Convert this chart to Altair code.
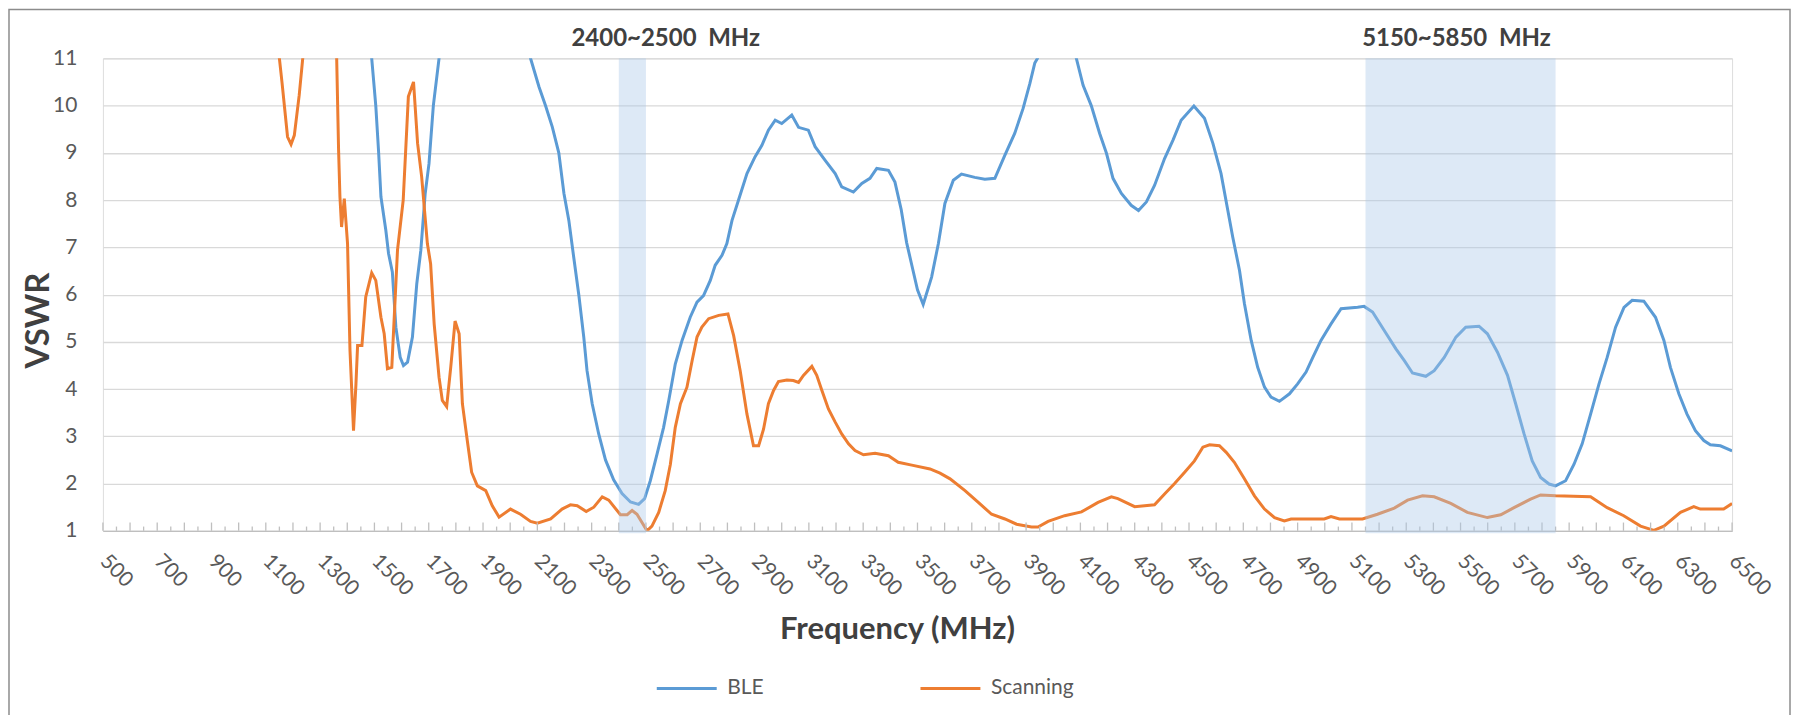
import altair as alt
import pandas as pd

# ---------------- data ----------------
ble_freq = [500, 1000, 1470, 1490, 1505, 1515, 1524, 1542, 1552, 1566, 1579, 1595, 1607, 1622, 1640,
            1656, 1671, 1687, 1701, 1717, 1738, 1760, 1900, 2050, 2075, 2106, 2130, 2155, 2179, 2198,
            2216, 2234, 2253, 2271, 2283, 2302, 2326, 2351, 2381, 2412, 2443, 2473, 2495, 2516, 2541,
            2565, 2584, 2608, 2633, 2663, 2688, 2712, 2737, 2755, 2780, 2798, 2817, 2841, 2872, 2902,
            2927, 2951, 2976, 3000, 3037, 3062, 3098, 3123, 3160, 3197, 3221, 3264, 3295, 3325, 3350,
            3393, 3417, 3440, 3460, 3480, 3500, 3521, 3552, 3577, 3601, 3632, 3662, 3711, 3748, 3785,
            3822, 3858, 3889, 3914, 3932, 3942, 3960, 4010, 4065, 4085, 4110, 4140, 4171, 4196, 4220,
            4251, 4287, 4314, 4343, 4373, 4410, 4441, 4471, 4518, 4557, 4588, 4618, 4643, 4661, 4686,
            4704, 4729, 4753, 4778, 4802, 4833, 4870, 4900, 4931, 4956, 4986, 5023, 5060, 5121, 5145,
            5176, 5219, 5262, 5293, 5323, 5372, 5403, 5440, 5483, 5519, 5568, 5599, 5636, 5673, 5703,
            5734, 5764, 5795, 5826, 5850, 5887, 5918, 5948, 5979, 6010, 6040, 6071, 6102, 6132, 6175,
            6218, 6249, 6273, 6304, 6334, 6365, 6396, 6420, 6457, 6500]
ble_vswr = [30, 30, 12.5, 11.0, 10.0, 9.06, 8.07, 7.36, 6.87, 6.48, 5.31, 4.67, 4.5, 4.57, 5.1,
            6.23, 6.94, 8.14, 8.77, 10.0, 11.0, 12.6, 16, 12.4, 11.0, 10.4, 10.0, 9.55, 9.0, 8.14,
            7.57, 6.79, 5.98, 5.1, 4.39, 3.69, 3.05, 2.5, 2.08, 1.79, 1.61, 1.56, 1.68, 2.06, 2.63,
            3.19, 3.76, 4.53, 5.03, 5.52, 5.84, 5.98, 6.3, 6.62, 6.83, 7.08, 7.57, 8.0, 8.56, 8.92,
            9.16, 9.48, 9.69, 9.62, 9.8, 9.54, 9.48, 9.13, 8.84, 8.56, 8.28, 8.17, 8.35, 8.46, 8.67,
            8.63, 8.38, 7.8, 7.1, 6.6, 6.1, 5.79, 6.37, 7.08, 7.93, 8.42, 8.55, 8.48, 8.44, 8.46,
            8.95, 9.41, 9.94, 10.47, 10.9, 11.0, 12.3, 13.5, 12.3, 11.0, 10.43, 10.0, 9.41, 8.99, 8.46,
            8.14, 7.89, 7.78, 7.96, 8.31, 8.88, 9.27, 9.69, 9.99, 9.73, 9.2, 8.56, 7.78, 7.22, 6.51,
            5.81, 5.03, 4.46, 4.04, 3.83, 3.74, 3.9, 4.11, 4.36, 4.67, 5.03, 5.38, 5.7, 5.73, 5.75,
            5.63, 5.24, 4.85, 4.6, 4.34, 4.27, 4.39, 4.67, 5.1, 5.31, 5.33, 5.17, 4.78, 4.29, 3.69,
            3.05, 2.48, 2.13, 1.99, 1.95, 2.06, 2.41, 2.84, 3.47, 4.11, 4.67, 5.31, 5.73, 5.88, 5.86,
            5.52, 5.03, 4.46, 3.9, 3.47, 3.12, 2.91, 2.82, 2.8, 2.69]

scan_freq = [500, 1100, 1140, 1150, 1160, 1180, 1193, 1205, 1223, 1236, 1250, 1300, 1350, 1361, 1368,
             1373, 1379, 1389, 1401, 1410, 1423, 1432, 1438, 1454, 1468, 1490, 1505, 1524, 1536, 1548,
             1564, 1585, 1606, 1625, 1644, 1659, 1674, 1695, 1707, 1720, 1738, 1750, 1766, 1781, 1797,
             1812, 1824, 1842, 1858, 1879, 1910, 1934, 1959, 2001, 2038, 2075, 2100, 2149, 2191, 2222,
             2247, 2280, 2308, 2339, 2363, 2406, 2431, 2449, 2467, 2486, 2504, 2522, 2547, 2571, 2590,
             2608, 2627, 2651, 2670, 2688, 2706, 2731, 2768, 2802, 2823, 2847, 2872, 2896, 2915, 2933,
             2951, 2970, 2988, 3019, 3043, 3062, 3080, 3111, 3129, 3148, 3172, 3197, 3221, 3246, 3270,
             3301, 3344, 3393, 3429, 3479, 3546, 3583, 3620, 3675, 3724, 3773, 3822, 3865, 3920, 3944,
             3981, 4042, 4104, 4165, 4214, 4238, 4300, 4373, 4410, 4447, 4484, 4520, 4551, 4576, 4612,
             4637, 4667, 4704, 4741, 4778, 4815, 4851, 4876, 4998, 5023, 5054, 5139, 5194, 5256, 5305,
             5360, 5403, 5464, 5525, 5599, 5648, 5697, 5758, 5795, 5850, 5979, 6040, 6101, 6163, 6212,
             6249, 6310, 6359, 6383, 6469, 6500]
scan_vswr = [30, 18, 11.6, 11.0, 10.47, 9.34, 9.18, 9.37, 10.22, 11.0, 12.8, 16, 12.5, 11.0, 9.06,
             8.07, 7.43, 8.03, 7.08, 4.82, 3.12, 4.11, 4.92, 4.92, 5.95, 6.46, 6.3, 5.52, 5.17, 4.43,
             4.46, 6.94, 8.0, 10.19, 10.5, 9.2, 8.49, 7.08, 6.65, 5.38, 4.25, 3.76, 3.63, 4.46, 5.44,
             5.17, 3.69, 2.91, 2.24, 1.95, 1.85, 1.53, 1.29, 1.46, 1.35, 1.2, 1.16, 1.25, 1.46, 1.55,
             1.53, 1.41, 1.5, 1.72, 1.65, 1.34, 1.34, 1.43, 1.35, 1.17, 1.0, 1.1, 1.39, 1.85, 2.41,
             3.19, 3.69, 4.04, 4.6, 5.1, 5.31, 5.49, 5.56, 5.59, 5.13, 4.39, 3.47, 2.8, 2.8, 3.15,
             3.69, 3.97, 4.16, 4.19, 4.18, 4.14, 4.29, 4.48, 4.29, 3.97, 3.58, 3.3, 3.05, 2.84, 2.7,
             2.61, 2.64, 2.59, 2.45, 2.39, 2.31, 2.22, 2.1, 1.85, 1.6, 1.35, 1.25, 1.14, 1.08, 1.08,
             1.2, 1.32, 1.4, 1.6, 1.72, 1.68, 1.51, 1.55, 1.78, 2.0, 2.24, 2.48, 2.77, 2.82, 2.8,
             2.66, 2.45, 2.1, 1.74, 1.46, 1.28, 1.21, 1.25, 1.25, 1.3, 1.25, 1.25, 1.35, 1.48, 1.65,
             1.74, 1.72, 1.58, 1.39, 1.28, 1.34, 1.49, 1.67, 1.76, 1.74, 1.72, 1.49, 1.32, 1.1, 1.01,
             1.1, 1.39, 1.51, 1.46, 1.46, 1.58]

series_names = ["BLE", "Scanning"]
series_colors = ["#5B9BD5", "#ED7D31"]

band_start = [2400, 5150]
band_end = [2500, 5850]
band_text = ["2400~2500\u00a0 MHz", "5150~5850\u00a0 MHz"]
band_text_freq = [2573, 5485]

x_tick_labels = list(range(500, 6501, 200))
y_tick_labels = list(range(1, 12))
major_ticks = list(range(500, 6501, 100))
minor_ticks = list(range(550, 6500, 100))

# ---------------- tables ----------------
lines_df = pd.concat([
    pd.DataFrame({"freq": ble_freq, "vswr": ble_vswr, "series": series_names[0]}),
    pd.DataFrame({"freq": scan_freq, "vswr": scan_vswr, "series": series_names[1]}),
], ignore_index=True)
bands_df = pd.DataFrame({"start": band_start, "end": band_end})
labels_df = pd.DataFrame({"freq": band_text_freq, "text": band_text})
major_df = pd.DataFrame({"freq": major_ticks})
minor_df = pd.DataFrame({"freq": minor_ticks})

FONT = "Lato"
xscale = alt.Scale(domain=[500, 6500], nice=False, zero=False)
yscale = alt.Scale(domain=[1, 11], nice=False, zero=False)

x_enc = alt.X("freq:Q", scale=xscale, axis=alt.Axis(
    values=x_tick_labels, format="d", grid=False, ticks=False, labelAngle=45, labelAlign="left",
    labelBaseline="middle", labelPadding=27, labelFontSize=21, labelFont=FONT,
    labelColor="#595959", labelFlush=False, labelOverlap=False,
    domainColor="#BFBFBF", domainWidth=1.3,
    title="Frequency (MHz)", titleFont=FONT, titleFontSize=31, titleFontWeight="bold",
    titleColor="#404040", titleX=795, titleY=108, titleBaseline="alphabetic",
    titleAlign="center"))
y_enc = alt.Y("vswr:Q", scale=yscale, axis=alt.Axis(
    values=y_tick_labels, grid=True, gridColor="#D9D9D9", gridWidth=1.3, ticks=False,
    tickSize=0, domain=False, labelPadding=26, labelFontSize=21, labelFont=FONT,
    labelColor="#595959", labelFlush=False,
    title="VSWR", titleFont=FONT, titleFontSize=33, titleFontWeight="bold",
    titleColor="#404040", titleAngle=270, titleX=-64, titleY=262,
    titleAlign="center", titleBaseline="middle"))

lines = alt.Chart(lines_df).mark_line(strokeWidth=3, clip=True).encode(
    x=x_enc, y=y_enc,
    color=alt.Color("series:N", scale=alt.Scale(domain=series_names, range=series_colors),
                    legend=alt.Legend(title=None, orient="none", legendX=553, legendY=599,
                                      direction="horizontal", symbolType="stroke",
                                      symbolSize=3600, symbolStrokeWidth=3,
                                      labelFont=FONT, labelFontSize=21, labelColor="#595959",
                                      labelOffset=9, columnPadding=150, padding=0)),
    order=alt.Order("freq:Q"),
)

major = alt.Chart(major_df).mark_rule(color="#BFBFBF", strokeWidth=1.3).encode(
    x=alt.X("freq:Q", scale=xscale), y=alt.datum(1), y2=alt.datum(1.175))
minor = alt.Chart(minor_df).mark_rule(color="#BFBFBF", strokeWidth=1.3).encode(
    x=alt.X("freq:Q", scale=xscale), y=alt.datum(1), y2=alt.datum(1.09))

bands = alt.Chart(bands_df).mark_rect(color="#A9C8E8", opacity=0.4).encode(
    x=alt.X("start:Q", scale=xscale), x2="end:Q",
    y=alt.datum(11), y2=alt.datum(0.95))

band_labels = alt.Chart(labels_df).mark_text(
    font=FONT, fontSize=24, fontWeight="bold", color="#404040",
    baseline="middle", align="center", dy=-19).encode(
    x=alt.X("freq:Q", scale=xscale), y=alt.datum(11), text="text:N")

frame = alt.Chart(pd.DataFrame({"k": [0]})).mark_rect(
    filled=False, stroke="#8C8C8C", strokeWidth=1.5).encode(
    x=alt.value(-94), x2=alt.value(1689), y=alt.value(-49), y2=alt.value(720))

chart = alt.layer(lines, major, minor, bands, band_labels, frame).properties(
    width=1631, height=473,
    padding={"left": 95, "top": 50, "right": 61, "bottom": 184},
    autosize=alt.AutoSizeParams(type="none"),
).configure_view(stroke=None).configure(background="white")

chart.save("out.html", embed_options={"renderer": "svg", "actions": False})
